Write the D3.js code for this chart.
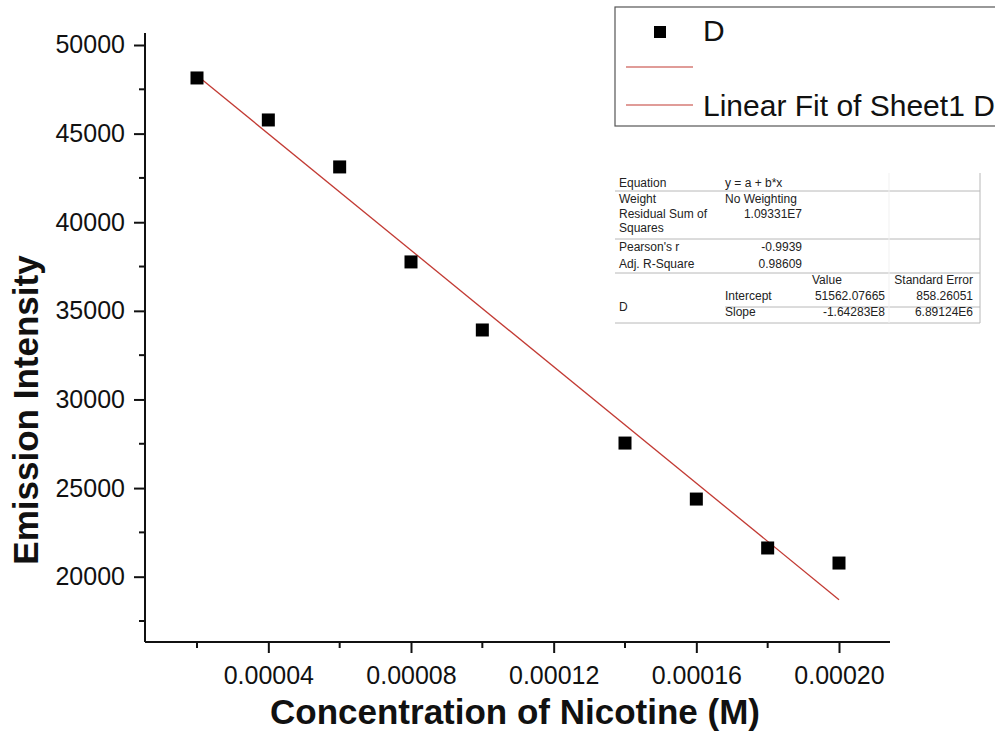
<!DOCTYPE html>
<html>
<head>
<meta charset="utf-8">
<script src="https://cdn.jsdelivr.net/npm/d3@7/dist/d3.min.js"></script>
<style>
  html, body { margin: 0; padding: 0; background: #fff; }
  svg { display: block; font-family: "Liberation Sans", Arial, sans-serif; }
</style>
</head>
<body>
<svg id="chart" width="995" height="734"></svg>
<script>
// Measured emission intensity vs. nicotine concentration
const concentrations = [0.00002, 0.00004, 0.00006, 0.00008, 0.0001, 0.00014, 0.00016, 0.00018, 0.0002];
const intensities    = [48140, 45770, 43120, 37760, 33920, 27540, 24380, 21620, 20770];

// Linear fit parameters (y = a + b*x)
const fitIntercept = 51562.07665;
const fitSlope = -1.64283e8;
const fitRange = [0.00002, 0.0002];

// Axis ticks
const xMajorTicks = [0.00004, 0.00008, 0.00012, 0.00016, 0.0002];
const xMinorTicks = [0.00002, 0.00006, 0.0001, 0.00014, 0.00018];
const xTickLabels = ["0.00004", "0.00008", "0.00012", "0.00016", "0.00020"];
const yMajorTicks = [20000, 25000, 30000, 35000, 40000, 45000, 50000];
const yMinorTicks = [17500, 22500, 27500, 32500, 37500, 42500, 47500];

// Fit statistics table
const statLabels = ["Equation", "Weight", "Residual Sum of", "Squares", "Pearson's r", "Adj. R-Square"];
const statValues = ["y = a + b*x", "No Weighting", "1.09331E7", "", "-0.9939", "0.98609"];
const paramNames = ["Intercept", "Slope"];
const paramValues = ["51562.07665", "-1.64283E8"];
const paramErrors = ["858.26051", "6.89124E6"];

const legendLabels = ["D", "", "Linear Fit of Sheet1 D"];

const svg = d3.select("#chart");

const x = d3.scaleLinear().domain([0.00000542, 0.0002143]).range([145, 890]);
const y = d3.scaleLinear().domain([16315, 50677]).range([642, 33]);

const fitColor = "#c23a33";

// Fit line
const line = d3.line().x(d => x(d)).y(d => y(fitIntercept + fitSlope * d));
svg.append("path")
  .datum(fitRange)
  .attr("d", line)
  .attr("fill", "none")
  .attr("stroke", fitColor)
  .attr("stroke-width", 1.3);

// Data points
const sq = 13;
svg.append("g").selectAll("rect")
  .data(concentrations)
  .join("rect")
  .attr("x", (d) => x(d) - sq / 2)
  .attr("y", (d, i) => y(intensities[i]) - sq / 2)
  .attr("width", sq)
  .attr("height", sq)
  .attr("fill", "#000");

// X axis
const xAxis = svg.append("g").attr("transform", "translate(0,642)");
xAxis.call(d3.axisBottom(x).tickValues(xMajorTicks).tickSize(11)
  .tickFormat((d, i) => xTickLabels[i]).tickPadding(13));
xAxis.append("g").selectAll("line").data(xMinorTicks).join("line")
  .attr("x1", d => x(d)).attr("x2", d => x(d))
  .attr("y1", 0).attr("y2", 6);

// Y axis
const yAxis = svg.append("g").attr("transform", "translate(145,0)");
yAxis.call(d3.axisLeft(y).tickValues(yMajorTicks).tickSize(11)
  .tickFormat(d3.format("d")).tickPadding(9));
yAxis.append("g").selectAll("line").data(yMinorTicks).join("line")
  .attr("x1", -6).attr("x2", 0)
  .attr("y1", d => y(d)).attr("y2", d => y(d));

[xAxis, yAxis].forEach(g => {
  g.select(".domain").attr("stroke", "#111").attr("stroke-width", 2)
    .attr("d", g === xAxis ? "M145,0H890" : "M0,642V33");
  g.selectAll("line").attr("stroke", "#111").attr("stroke-width", 2);
  g.selectAll("text").attr("fill", "#111").style("font-size", "25px")
    .style("font-family", "'Liberation Sans', Arial, sans-serif");
});

// Axis titles
svg.append("text")
  .attr("x", 515).attr("y", 724)
  .attr("text-anchor", "middle")
  .style("font-size", "35px").style("font-weight", "bold").attr("fill", "#111")
  .text("Concentration of Nicotine (M)");

svg.append("text")
  .attr("transform", "translate(38,410) rotate(-90)")
  .attr("text-anchor", "middle")
  .style("font-size", "35px").style("font-weight", "bold").attr("fill", "#111")
  .text("Emission Intensity");

// Legend
const legend = svg.append("g");
legend.append("rect")
  .attr("x", 615).attr("y", 7).attr("width", 400).attr("height", 119)
  .attr("fill", "#fff").attr("stroke", "#555").attr("stroke-width", 1.2);
legend.append("rect").attr("x", 654).attr("y", 26).attr("width", 12).attr("height", 12).attr("fill", "#000");
[67, 105].forEach(ly => legend.append("line")
  .attr("x1", 626).attr("x2", 693).attr("y1", ly).attr("y2", ly)
  .attr("stroke", fitColor).attr("stroke-width", 1.2));
[41, 79, 116].forEach((ty, i) => legend.append("text")
  .attr("x", 703).attr("y", ty)
  .style("font-size", "30px").attr("fill", "#111")
  .text(legendLabels[i]));

// Statistics table
const tbl = svg.append("g").style("font-size", "12px").attr("fill", "#222");
const L = 615, R = 980;
const rule = "#b8b8b8";
[[191, L], [239, L], [273, L], [307, 725], [323, L]].forEach(([ly, lx]) =>
  tbl.append("line").attr("x1", lx).attr("x2", R).attr("y1", ly).attr("y2", ly)
    .attr("stroke", rule).attr("stroke-width", 1));
tbl.append("line").attr("x1", R).attr("x2", R).attr("y1", 173).attr("y2", 323)
  .attr("stroke", rule).attr("stroke-width", 1);
tbl.append("line").attr("x1", 889).attr("x2", 889).attr("y1", 173).attr("y2", 323)
  .attr("stroke", "#f1f1f1").attr("stroke-width", 1);

const statY = [187, 203, 218, 232, 251, 268];
statLabels.forEach((t, i) => tbl.append("text").attr("x", 619).attr("y", statY[i]).text(t));
statValues.forEach((t, i) => {
  if (i < 2) tbl.append("text").attr("x", 725).attr("y", statY[i]).text(t);
  else if (t) tbl.append("text").attr("x", 802).attr("y", statY[i]).attr("text-anchor", "end").text(t);
});
tbl.append("text").attr("x", 812).attr("y", 284).text("Value");
tbl.append("text").attr("x", 973).attr("y", 284).attr("text-anchor", "end").text("Standard Error");
tbl.append("text").attr("x", 619).attr("y", 311).text("D");
const paramY = [300, 316];
paramNames.forEach((t, i) => {
  tbl.append("text").attr("x", 725).attr("y", paramY[i]).text(t);
  tbl.append("text").attr("x", 885).attr("y", paramY[i]).attr("text-anchor", "end").text(paramValues[i]);
  tbl.append("text").attr("x", 973).attr("y", paramY[i]).attr("text-anchor", "end").text(paramErrors[i]);
});
</script>
</body>
</html>
